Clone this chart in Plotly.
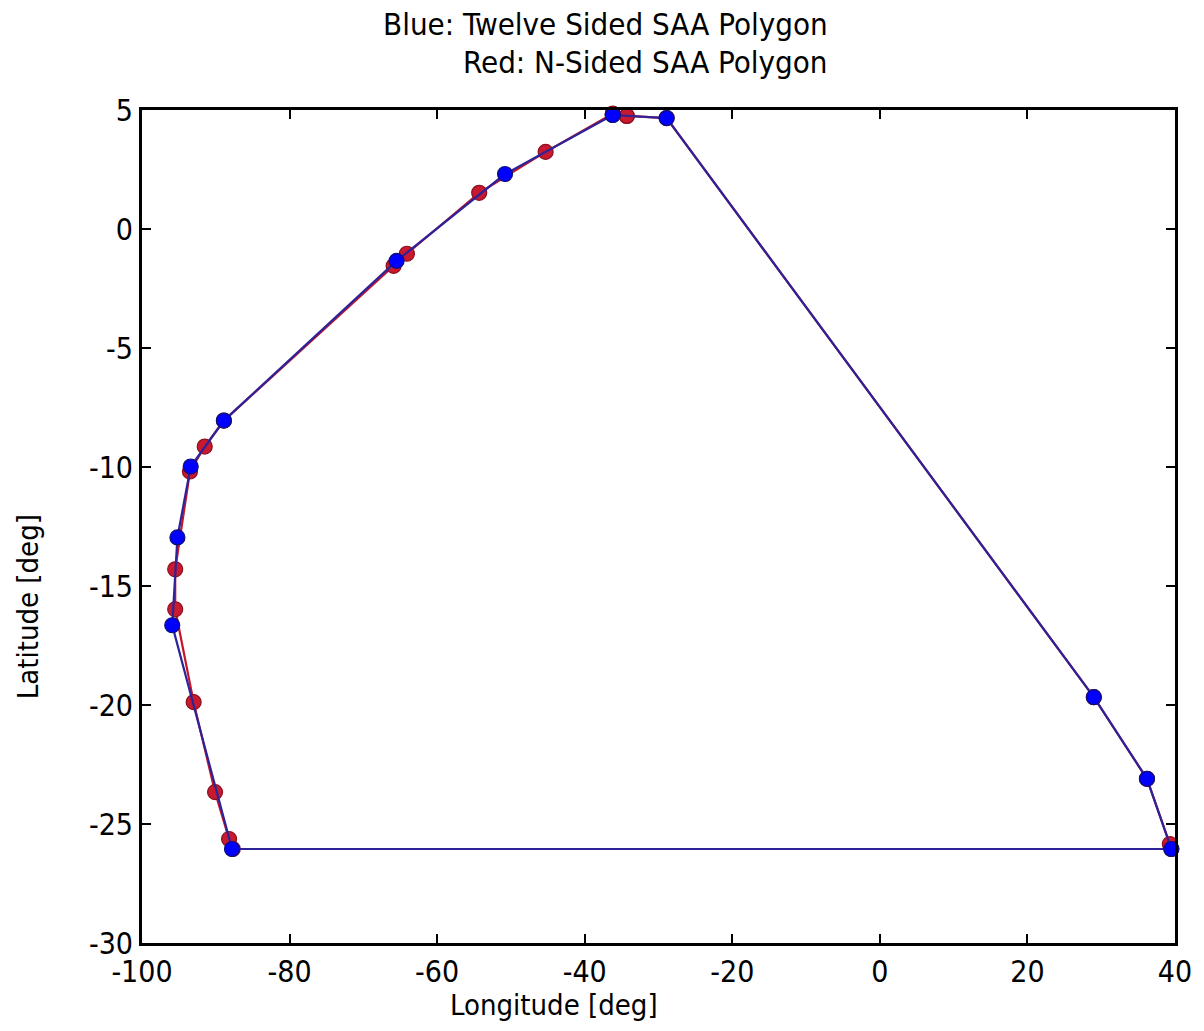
import plotly.graph_objects as go

# Twelve sided SAA polygon (blue), closed
blue_lon = [-36.2, -28.9, 29.0, 36.2, 39.5, -87.8, -95.9, -95.2, -93.4, -88.9, -65.5, -50.8, -36.2]
blue_lat = [4.79, 4.66, -19.67, -23.1, -26.05, -26.05, -16.65, -12.96, -9.98, -8.05, -1.34, 2.31, 4.79]

# N-sided SAA polygon (red), closed
red_lon = [-34.3, -28.9, 29.0, 36.2, 39.3, 39.5, -87.7, -88.2, -90.1, -93.0, -95.5, -95.5,
           -93.5, -91.5, -88.9, -65.9, -64.1, -54.3, -45.3, -36.2, -34.3]
red_lat = [4.75, 4.66, -19.67, -23.1, -25.84, -26.05, -26.05, -25.63, -23.66, -19.88, -15.98, -14.3,
           -10.19, -9.14, -8.05, -1.55, -1.04, 1.52, 3.24, 4.85, 4.75]

x_ticks = [-100, -80, -60, -40, -20, 0, 20, 40]
y_ticks = [5, 0, -5, -10, -15, -20, -25, -30]

FONT = "DejaVu Sans Condensed, DejaVu Sans, sans-serif"

fig = go.Figure()
fig.add_trace(go.Scatter(
    x=red_lon, y=red_lat, mode="lines+markers",
    line=dict(color="#c4162a", width=2.2),
    marker=dict(size=15, color="#c8192e", line=dict(color="#8a1020", width=1.2)),
    showlegend=False, cliponaxis=False))
fig.add_trace(go.Scatter(
    x=blue_lon, y=blue_lat, mode="lines+markers",
    line=dict(color="#2e2299", width=2.2),
    marker=dict(size=15, color="#0000ff", line=dict(color="#101070", width=1.2)),
    showlegend=False, cliponaxis=False))

axis_common = dict(showgrid=False, zeroline=False, showline=True, linecolor="black",
                   linewidth=3, mirror="ticks", ticks="inside", ticklen=9, tickwidth=1.5,
                   tickcolor="black", tickfont=dict(family=FONT, size=30, color="black"))

fig.update_xaxes(range=[-100, 40], tickvals=x_ticks, ticktext=[str(v) for v in x_ticks], **axis_common)
fig.update_yaxes(range=[-30, 5], tickvals=y_ticks, ticktext=[str(v) for v in y_ticks], **axis_common)

fig.update_layout(
    width=1204, height=1031,
    margin=dict(l=142, r=26, t=110, b=88),
    plot_bgcolor="white", paper_bgcolor="white",
    annotations=[
        dict(text="Blue: Twelve Sided SAA Polygon", xref="paper", yref="paper",
             x=0.666, y=1.0, yshift=86, xanchor="right", yanchor="middle", showarrow=False,
             font=dict(family=FONT, size=31, color="black")),
        dict(text="Red: N-Sided SAA Polygon", xref="paper", yref="paper",
             x=0.666, y=1.0, yshift=48, xanchor="right", yanchor="middle", showarrow=False,
             font=dict(family=FONT, size=31, color="black")),
        dict(text="Longitude [deg]", xref="paper", yref="paper",
             x=0.399, y=0, yshift=-62, xanchor="center", yanchor="middle", showarrow=False,
             font=dict(family=FONT, size=29, color="black")),
        dict(text="Latitude [deg]", xref="paper", yref="paper",
             x=0, xshift=-114, y=0.403, xanchor="center", yanchor="middle", showarrow=False,
             textangle=-90, font=dict(family=FONT, size=29, color="black")),
    ],
)

fig.write_html("out.html")
